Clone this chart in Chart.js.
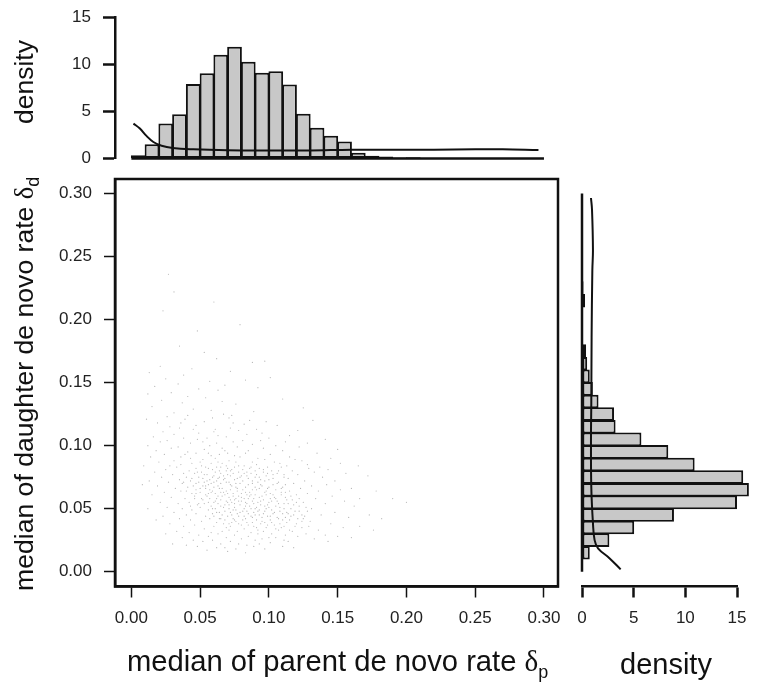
<!DOCTYPE html>
<html>
<head>
<meta charset="utf-8">
<title>de novo rates</title>
<script src="https://cdn.jsdelivr.net/npm/chart.js@4"></script>
<style>
    body { margin: 0; background: #fff; }
    #page { position: relative; width: 762px; height: 690px; overflow: hidden; }
    canvas { position: absolute; left: 0; top: 0; }
    .lbl { position: absolute; font-family: "Liberation Sans", sans-serif; color: #111; white-space: nowrap; line-height: 30px; }
    .rot { transform-origin: left top; transform: rotate(-90deg); }
    .lbl i { font-family: "Liberation Serif", serif; font-style: normal; }
    .lbl sub { font-size: 18px; line-height: 0; font-family: "Liberation Sans", sans-serif; }
</style>
</head>
<body>
<div id="page">
    <canvas id="mainChart" width="762" height="690"></canvas>
    <canvas id="topChart" width="762" height="690"></canvas>
    <canvas id="sideChart" width="762" height="690"></canvas>
    <div class="lbl" style="left:127px; top:646px; font-size:29.2px;">median of parent de novo rate <i>δ</i><sub>p</sub></div>
    <div class="lbl" style="left:620px; top:649px; font-size:29px;">density</div>
    <div class="lbl rot" style="left:9px; top:591px; font-size:26.6px;">median of daughter de novo rate <i>δ</i><sub>d</sub></div>
    <div class="lbl rot" style="left:9px; top:124px; font-size:26.5px;">density</div>
</div>
<script>
const rateTicks = [0, 0.05, 0.10, 0.15, 0.20, 0.25, 0.30];
const densityTicks = [0, 5, 10, 15];

// histogram bin centres, both margins use 0.01 wide bins
const binMids = [0.005, 0.015, 0.025, 0.035, 0.045, 0.055, 0.065, 0.075, 0.085, 0.095,
    0.105, 0.115, 0.125, 0.135, 0.145, 0.155, 0.165, 0.175, 0.185, 0.195,
    0.205, 0.215, 0.225, 0.235, 0.245, 0.255, 0.265, 0.275, 0.285, 0.295];

const parentHist = [0.35, 1.5, 3.7, 4.7, 7.9, 9.05, 11.0, 11.85, 10.25, 9.1,
    9.25, 7.85, 4.75, 3.25, 2.4, 1.8, 0.6, 0.3, 0.2, 0.1,
    0.12, 0, 0, 0, 0, 0, 0, 0, 0, 0];
const daughterHist = [0, 0.75, 2.65, 5.05, 8.9, 15.0, 16.15, 15.6, 10.9, 8.35,
    5.75, 3.25, 3.1, 1.6, 1.05, 0.75, 0.5, 0.4, 0.1, 0.1,
    0.05, 0.3, 0.15, 0, 0, 0, 0, 0, 0, 0];

const parentCurveX = [0.0015, 0.006, 0.011, 0.016, 0.022, 0.03, 0.045, 0.07, 0.1, 0.13, 0.16, 0.19, 0.22, 0.25, 0.27, 0.296];
const parentCurveY = [3.7, 3.2, 2.4, 1.75, 1.35, 1.12, 0.98, 0.88, 0.85, 0.85, 0.93, 0.92, 0.93, 0.97, 0.97, 0.9];
const daughterCurveY = [0.0018, 0.0105, 0.0185, 0.025, 0.0385, 0.067, 0.107, 0.134, 0.186, 0.239, 0.255, 0.287, 0.2965];
const daughterCurveX = [3.74, 2.68, 1.55, 1.22, 1.06, 0.9, 0.87, 0.9, 0.93, 1.0, 1.06, 0.97, 0.87];
const baselineEnds = [0, 0.30];

// scatter dots, parent rate, daughter rate (x 1000), top of the cloud first
const cloudPairs = [
    27,236, 31,222, 60,214, 23,207, 79,196, 48,191, 35,179, 53,174, 62,169, 97,167, 21,163, 44,161, 88,166,
    13,158, 38,156, 72,159, 25,153, 57,151, 101,154, 68,148, 17,147, 34,149, 49,145, 83,152, 29,142, 63,144,
    92,146, 41,139, 12,141, 22,136, 54,138, 76,133, 37,134, 110,137, 15,131, 45,129, 66,135, 89,127, 31,126,
    26,123, 58,128, 39,121, 73,124, 98,119, 125,130, 19,118, 47,116, 71,122, 82,117, 35,114, 61,113, 132,120,
    11,121, 28,115, 53,119, 67,125, 91,113, 106,116, 41,124, 74,118, 23,111, 36,118, 59,122, 78,112, 86,120,
    49,110, 115,108, 16,107, 31,109, 45,113, 63,108, 72,114, 95,110, 55,106, 121,112, 84,109, 26,104, 38,106,
    52,103, 69,107, 81,104, 100,106, 43,102, 112,103, 60,111, 141,105, 12,100, 21,103, 34,99, 48,105, 57,100,
    74,103, 88,101, 66,98, 105,100, 94,104, 128,102, 18,96, 29,98, 41,95, 53,97, 62,102, 77,99, 85,96, 96,98,
    70,94, 110,96, 122,99, 150,97, 24,93, 36,91, 47,94, 58,92, 68,96, 75,92, 83,94, 92,90, 101,93, 115,91,
    52,89, 64,93, 135,94, 43,90, 14,91, 31,88, 39,93, 50,87, 61,90, 71,88, 79,91, 88,87, 97,89, 108,86,
    119,89, 56,94, 66,86, 145,90, 128,85, 20,87, 28,84, 44,86, 54,83, 63,87, 69,84, 76,87, 82,84, 91,85,
    99,83, 104,87, 113,84, 124,88, 47,82, 36,85, 58,86, 86,82, 152,86, 137,83, 9,84, 25,81, 33,83, 42,80,
    51,84, 59,81, 65,83, 72,80, 78,84, 84,79, 93,82, 102,80, 109,83, 117,80, 129,82, 48,79, 38,78, 70,82,
    96,79, 143,81, 165,84, 17,79, 30,77, 40,75, 46,78, 55,77, 61,79, 67,76, 74,78, 80,76, 87,78, 90,75,
    98,76, 106,78, 111,75, 121,77, 133,79, 52,74, 64,75, 77,74, 156,78, 22,75, 35,73, 43,72, 49,75, 57,73,
    62,72, 68,74, 71,71, 75,73, 81,72, 85,74, 92,71, 100,73, 107,71, 114,74, 126,72, 139,75, 53,71, 65,70,
    94,73, 148,72, 172,76, 13,72, 27,71, 37,70, 45,68, 52,68, 58,70, 63,68, 69,71, 73,68, 79,70, 83,67,
    88,70, 95,68, 103,69, 110,67, 118,70, 131,68, 60,67, 76,67, 90,67, 99,66, 142,69, 160,66, 19,68, 32,66,
    41,67, 47,65, 54,66, 59,64, 64,66, 67,63, 72,65, 77,64, 81,65, 86,63, 91,65, 97,63, 105,65, 112,63,
    123,66, 136,64, 56,62, 70,62, 84,61, 101,62, 152,65, 178,64, 8,69, 24,63, 36,64, 44,62, 50,63, 55,60,
    61,62, 66,60, 71,59, 74,62, 78,60, 82,58, 87,61, 93,59, 98,61, 104,59, 109,61, 116,60, 128,62, 62,58,
    75,57, 89,58, 146,60, 166,58, 15,61, 29,59, 39,58, 46,60, 52,57, 57,58, 60,55, 65,57, 69,56, 73,55,
    76,58, 80,56, 84,54, 88,56, 92,55, 96,57, 102,56, 107,54, 113,57, 120,55, 134,58, 68,53, 83,52, 99,53,
    155,56, 190,58, 21,55, 34,54, 42,55, 48,53, 53,54, 58,52, 63,54, 67,51, 71,53, 75,51, 79,53, 82,50,
    86,52, 90,50, 94,53, 100,51, 105,52, 111,50, 118,53, 127,51, 141,54, 74,49, 92,48, 162,52, 200,55,
    26,51, 37,50, 44,49, 50,51, 56,49, 61,50, 64,47, 72,47, 77,46, 81,48, 85,46, 89,47, 93,45, 97,48,
    103,46, 108,48, 114,46, 122,48, 131,50, 66,45, 87,44, 99,44, 148,47, 173,45, 12,50, 31,47, 40,45,
    47,46, 54,44, 59,46, 65,42, 70,44, 74,42, 78,44, 83,42, 88,43, 91,41, 95,43, 101,41, 106,43, 110,41,
    116,44, 125,42, 138,45, 73,39, 97,39, 158,43, 23,44, 35,42, 43,41, 51,40, 57,42, 62,39, 67,38, 72,36,
    76,40, 80,37, 84,39, 89,36, 94,38, 98,35, 104,37, 109,35, 113,39, 119,36, 130,40, 145,38, 69,35, 92,33,
    182,42, 28,38, 38,36, 46,37, 53,34, 60,36, 66,32, 71,33, 77,32, 82,34, 87,31, 92,30, 96,32, 102,30,
    107,33, 112,29, 117,32, 124,35, 136,33, 58,31, 100,27, 154,35, 18,41, 33,32, 42,31, 49,29, 56,28, 63,30,
    69,27, 75,29, 80,26, 85,28, 90,25, 95,26, 105,27, 111,25, 127,30, 141,29, 72,24, 93,22, 166,36, 25,30,
    37,27, 45,25, 52,24, 59,25, 65,22, 78,22, 84,21, 89,20, 101,23, 114,24, 121,28, 133,26, 68,19, 150,28,
    176,33, 30,22, 40,21, 48,20, 55,17, 62,19, 70,16, 76,18, 83,15, 97,18, 110,20, 118,19, 143,24, 160,27,
    // denser core, 0.05 to 0.12 on the parent axis
    51,79, 56,82, 60,76, 64,80, 67,73, 70,77, 73,81, 76,70, 79,75, 82,78, 85,69, 88,72, 91,77, 94,69, 97,72,
    100,67, 103,74, 106,70, 109,66, 112,69, 115,64, 49,71, 54,68, 57,65, 60,71, 63,74, 66,66, 69,64, 72,69,
    74,60, 77,66, 80,62, 83,63, 85,58, 88,65, 90,61, 93,66, 95,60, 98,64, 101,58, 103,61, 106,56, 109,63,
    112,59, 114,54, 117,57, 120,61, 122,58, 125,55, 47,62, 51,58, 54,61, 58,63, 61,56, 63,60, 65,63, 68,61,
    70,55, 72,57, 75,54, 78,56, 80,59, 83,55, 86,60, 89,54, 91,51, 94,56, 97,52, 100,55, 102,49, 105,58,
    108,51, 111,54, 113,47, 116,50, 119,48, 122,52, 124,45, 128,48, 56,55, 59,50, 62,47, 65,52, 68,48, 71,50,
    73,45, 76,49, 79,47, 82,44, 84,48, 87,50, 90,45, 93,49, 96,46, 98,50, 101,44, 104,47, 107,42, 110,46,
    112,43, 115,41, 118,45, 121,42, 126,44, 60,44, 64,42, 68,41, 71,38, 75,41, 78,38, 81,41, 85,37, 88,39,
    91,35, 95,40, 99,37, 102,39, 105,34, 108,38, 111,36, 115,33, 120,38, 124,40, 129,36, 55,72, 59,75, 62,83,
    65,78, 69,80, 72,76, 75,83, 78,79, 81,81, 84,76, 87,83, 90,80, 93,75, 96,81, 99,78, 103,77, 107,80, 111,77,
    44,74, 47,70, 50,66, 53,77, 56,69, 46,58, 49,54, 43,52, 40,64, 38,71
];

const rateMinX = -0.0119, rateMaxX = 0.3102;
const rateMinY = -0.0118, rateMaxY = 0.3116;

const inkColor = '#111';
const barFill = '#c8c8c8';

const cloudPoints = [];
for (let i = 0; i < cloudPairs.length; i += 2) {
    cloudPoints.push({ x: cloudPairs[i] / 1000, y: cloudPairs[i + 1] / 1000 });
}

function pair(xs, ys) {
    return xs.map((x, i) => ({ x: x, y: ys[i] }));
}

function fixedSize(size) {
    return function (scale) {
        if (scale.isHorizontal()) scale.height = size; else scale.width = size;
        // no room for half labels, the panels have to line up
        scale.paddingTop = scale.paddingBottom = scale.paddingLeft = scale.paddingRight = 0;
    };
}

function useTicks(values) {
    return function (scale) {
        scale.ticks = values.map(v => ({ value: v }));
    };
}

function axisStyle(opts) {
    return {
        border: { display: true, color: inkColor, width: opts.line },
        grid: { drawOnChartArea: false, drawTicks: true, tickLength: opts.tick, tickColor: inkColor, tickWidth: opts.tickWidth },
        ticks: {
            color: '#222',
            font: { family: '"Liberation Sans", sans-serif', size: 17 },
            padding: opts.pad,
            maxRotation: 0,
            autoSkip: false,
            callback: opts.fmt
        }
    };
}

const rateFmt = v => Number(v).toFixed(2);
const densFmt = v => String(v);

const boxPlugin = {
    id: 'box',
    afterDraw(chart) {
        const a = chart.chartArea;
        const c = chart.ctx;
        c.save();
        c.strokeStyle = inkColor;
        c.lineWidth = 2.5;
        c.strokeRect(a.left, a.top, a.right - a.left, a.bottom - a.top);
        c.restore();
    }
};

const baseOptions = {
    responsive: false,
    animation: false,
    events: [],
    plugins: { legend: { display: false }, tooltip: { enabled: false } }
};

// main scatter panel
new Chart(document.getElementById('mainChart'), {
    type: 'scatter',
    data: {
        datasets: [{
            data: cloudPoints,
            pointRadius: 0.6,
            pointBorderWidth: 0,
            pointBackgroundColor: 'rgba(90,90,90,0.45)'
        }]
    },
    options: {
        ...baseOptions,
        layout: { padding: { left: 0, top: 179, right: 204, bottom: 0 } },
        scales: {
            x: {
                type: 'linear', min: rateMinX, max: rateMaxX,
                afterBuildTicks: useTicks(rateTicks), afterFit: fixedSize(103.5),
                ...axisStyle({ line: 2.5, tick: 11, tickWidth: 1.5, pad: 11, fmt: rateFmt })
            },
            y: {
                type: 'linear', min: rateMinY, max: rateMaxY,
                afterBuildTicks: useTicks(rateTicks), afterFit: fixedSize(115),
                ...axisStyle({ line: 2.5, tick: 11, tickWidth: 1.5, pad: 12, fmt: rateFmt })
            }
        }
    },
    plugins: [boxPlugin]
});

// parent marginal on top
new Chart(document.getElementById('topChart'), {
    type: 'bar',
    data: {
        datasets: [
            { type: 'line', data: pair(parentCurveX, parentCurveY), borderColor: inkColor, borderWidth: 2, pointRadius: 0, tension: 0.4 },
            { type: 'line', data: pair(baselineEnds, [0, 0]), borderColor: inkColor, borderWidth: 2.5, pointRadius: 0, clip: false },
            {
                data: pair(binMids, parentHist),
                backgroundColor: barFill, borderColor: inkColor, borderWidth: 2, borderSkipped: false,
                barPercentage: 1.07, categoryPercentage: 1
            }
        ]
    },
    options: {
        ...baseOptions,
        layout: { padding: { left: 0, top: 17, right: 204, bottom: 531.5 } },
        scales: {
            x: { type: 'linear', offset: false, min: rateMinX, max: rateMaxX, display: false },
            y: {
                type: 'linear', min: 0, max: 15,
                afterBuildTicks: useTicks(densityTicks), afterFit: fixedSize(115),
                ...axisStyle({ line: 2.5, tick: 12, tickWidth: 2.5, pad: 12, fmt: densFmt })
            }
        }
    }
});

// daughter marginal on the right
new Chart(document.getElementById('sideChart'), {
    type: 'bar',
    data: {
        datasets: [
            { type: 'line', data: pair(daughterCurveX, daughterCurveY), borderColor: inkColor, borderWidth: 2, pointRadius: 0, tension: 0.4, clip: false },
            { type: 'line', data: pair([0, 0], baselineEnds), borderColor: inkColor, borderWidth: 2.5, pointRadius: 0, clip: false },
            {
                data: pair(daughterHist, binMids),
                backgroundColor: barFill, borderColor: inkColor, borderWidth: 2, borderSkipped: false,
                barPercentage: 1.08, categoryPercentage: 1, clip: false
            }
        ]
    },
    options: {
        ...baseOptions,
        indexAxis: 'y',
        layout: { padding: { left: 582, top: 179, right: 25, bottom: 0 } },
        scales: {
            x: {
                type: 'linear', min: 0, max: 15,
                afterBuildTicks: useTicks(densityTicks), afterFit: fixedSize(103.5),
                ...axisStyle({ line: 2.5, tick: 11, tickWidth: 2.5, pad: 11, fmt: densFmt })
            },
            y: { type: 'linear', offset: false, min: rateMinY, max: rateMaxY, display: false }
        }
    }
});
</script>
</body>
</html>
